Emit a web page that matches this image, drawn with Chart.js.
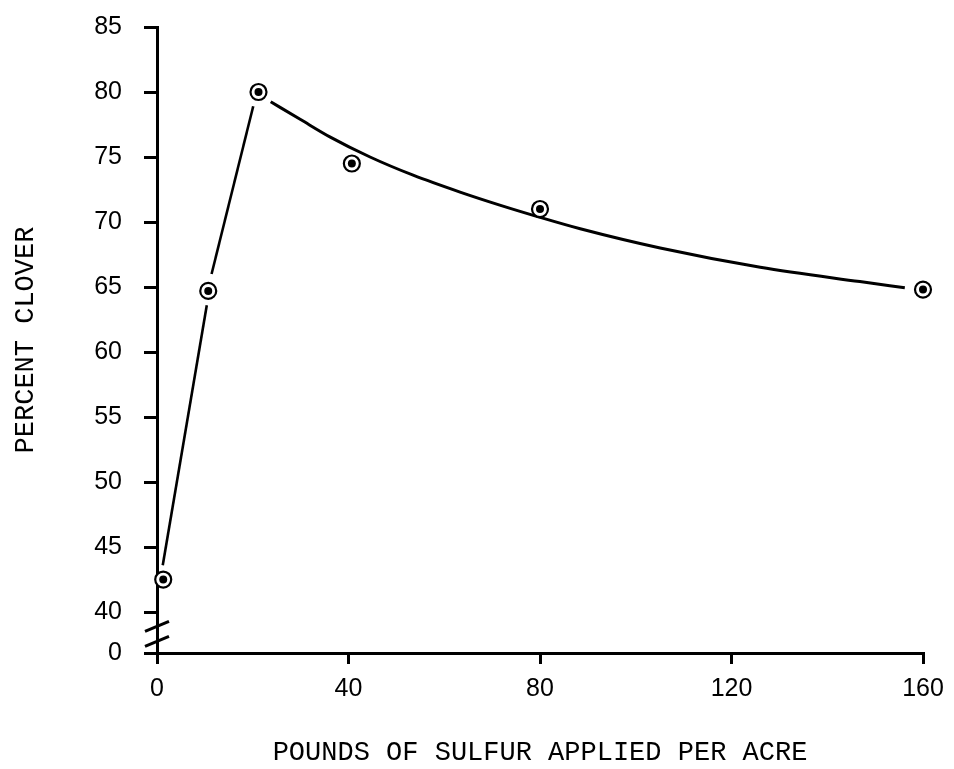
<!DOCTYPE html>
<html>
<head>
<meta charset="utf-8">
<title>Percent clover vs sulfur applied</title>
<script src="https://cdn.jsdelivr.net/npm/chart.js@4.4.1/dist/chart.umd.min.js"></script>
<style>
  html, body { margin: 0; padding: 0; background: #fff; }
  #cloverChart { display: block; }
</style>
</head>
<body>
<canvas id="cloverChart" width="954" height="769"></canvas>
<script>
// observed points: pounds of sulfur per acre vs percent clover
const sulfurRates = [1.3, 10.7, 21.2, 40.7, 80.0, 160];
const cloverPercent = [42.5, 64.7, 80.0, 74.5, 71.0, 64.8];

// hand drawn straight segments on the rising side (they stop short of the markers)
const riseLowX = [1.2, 10.4];
const riseLowY = [43.6, 63.6];
const riseHighX = [11.4, 20.1];
const riseHighY = [66.0, 78.9];

// fitted decay curve after the peak
const curveX = [23.75, 29.9, 36.1, 44.5, 53.5, 63.3, 71.6, 80.0, 88.4, 105.1, 126.0, 146.8, 156.2];
const curveY = [79.25, 77.9, 76.55, 75.0, 73.6, 72.3, 71.3, 70.36, 69.48, 68.0, 66.52, 65.42, 64.95];

const xTicks = [0, 40, 80, 120, 160];
const yTicks = [0, 40, 45, 50, 55, 60, 65, 70, 75, 80, 85];
const yBreakFloor = 36.85; // the "0" tick sits here, below the axis break

function toPoints(xs, ys) {
    return xs.map((x, i) => ({ x: x, y: ys[i] }));
}

const tickFont = { family: 'Liberation Sans', size: 25 };
const titleFont = { family: 'Liberation Mono', size: 27 };

// two short slashes across the y axis between 0 and 40
const axisBreak = {
    id: 'axisBreak',
    afterDraw(chart) {
        const yScale = chart.scales.y;
        const ctx = chart.ctx;
        const x0 = yScale.right;
        ctx.save();
        ctx.strokeStyle = '#000';
        ctx.lineWidth = 3;
        [38.9, 37.75].forEach(v => {
            const py = yScale.getPixelForValue(v);
            ctx.beginPath();
            ctx.moveTo(x0 - 12, py + 5);
            ctx.lineTo(x0 + 12, py - 5);
            ctx.stroke();
        });
        ctx.restore();
    }
};

const lineStyle = {
    showLine: true,
    borderColor: '#000',
    borderWidth: 2.6,
    pointRadius: 0,
    fill: false,
    clip: false
};

new Chart(document.getElementById('cloverChart'), {
    type: 'scatter',
    data: {
        datasets: [
            {
                label: 'dot',
                data: toPoints(sulfurRates, cloverPercent),
                pointRadius: 4,
                pointBackgroundColor: '#000',
                pointBorderWidth: 0,
                clip: false
            },
            {
                label: 'ring',
                data: toPoints(sulfurRates, cloverPercent),
                pointRadius: 8,
                pointBackgroundColor: '#fff',
                pointBorderColor: '#000',
                pointBorderWidth: 2.2,
                clip: false
            },
            Object.assign({ label: 'rise low', data: toPoints(riseLowX, riseLowY) }, lineStyle),
            Object.assign({ label: 'rise high', data: toPoints(riseHighX, riseHighY) }, lineStyle),
            Object.assign({
                label: 'fitted',
                data: toPoints(curveX, curveY),
                cubicInterpolationMode: 'monotone'
            }, lineStyle, { borderWidth: 3 })
        ]
    },
    options: {
        responsive: false,
        animation: false,
        layout: { padding: { left: 0, right: 31, top: 27, bottom: 0 } },
        plugins: {
            legend: { display: false },
            tooltip: { enabled: false }
        },
        scales: {
            x: {
                type: 'linear',
                min: 0,
                max: 160,
                afterBuildTicks: s => { s.ticks = xTicks.map(v => ({ value: v })); },
                afterFit: s => {
                    s.height = 116;
                    s.paddingLeft = 0;
                    s.paddingRight = 0;
                },
                ticks: { autoSkip: false, maxRotation: 0, padding: 10, color: '#000', font: tickFont },
                grid: { drawOnChartArea: false, drawTicks: true, tickLength: 11, lineWidth: 3, color: '#000' },
                border: { display: true, width: 3, color: '#000' },
                title: {
                    display: true,
                    text: 'POUNDS OF SULFUR APPLIED PER ACRE',
                    color: '#000',
                    font: titleFont,
                    padding: { top: 0, bottom: 0 }
                }
            },
            y: {
                type: 'linear',
                min: yBreakFloor,
                max: 85,
                afterBuildTicks: s => { s.ticks = yTicks.map(v => ({ value: v === 0 ? yBreakFloor : v })); },
                afterFit: s => {
                    s.width = 157;
                    s.paddingTop = 0;
                    s.paddingBottom = 0;
                },
                ticks: {
                    autoSkip: false,
                    padding: 22,
                    color: '#000',
                    font: tickFont,
                    callback: v => v === yBreakFloor ? '0' : String(v)
                },
                grid: { drawOnChartArea: false, drawTicks: true, tickLength: 13, lineWidth: 3, color: '#000' },
                border: { display: true, width: 3, color: '#000' },
                title: {
                    display: true,
                    text: 'PERCENT CLOVER',
                    color: '#000',
                    font: titleFont,
                    padding: { top: 10, bottom: 0 }
                }
            }
        }
    },
    plugins: [axisBreak]
});
</script>
</body>
</html>
